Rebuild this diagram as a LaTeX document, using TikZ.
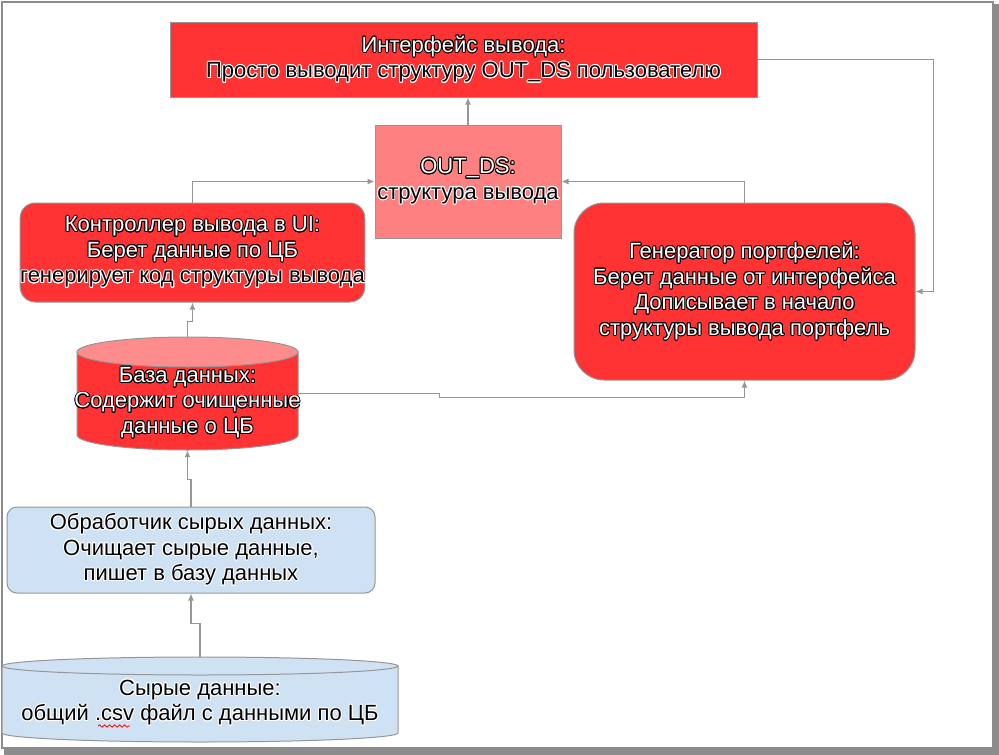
\documentclass[tikz,border=0pt]{standalone}
\usepackage{fontspec}
\setmainfont{Liberation Sans}
\usepackage[copies]{contour}
\usetikzlibrary{arrows.meta,decorations.pathmorphing}
\contourlength{0.9pt}
\definecolor{boxred}{RGB}{255,51,51}
\definecolor{boxpink}{RGB}{255,128,128}
\definecolor{toppink}{RGB}{255,140,140}
\definecolor{boxblue}{RGB}{207,226,243}
\definecolor{linegray}{RGB}{150,150,150}
\definecolor{framegray}{RGB}{140,140,140}
\newcommand\wtx[1]{\textcolor{white}{\contour{black}{#1}}}
\newcommand\bkx[1]{\textcolor{black}{\contour{white}{#1}}}
\begin{document}
\begin{tikzpicture}[x=1pt,y=-1pt,
  txt/.style={align=center,font=\fontsize{22}{25.5}\selectfont,inner sep=0pt},
  box/.style={txt,draw=linegray,line width=1pt},
  conn/.style={draw=linegray,line width=1.2pt,-{Latex[length=7pt,width=6pt]}},
  cyl/.style={draw=linegray,line width=1pt}]
\useasboundingbox (0,0) rectangle (999,755);
% frame
\draw[framegray,line width=2pt] (2,2) rectangle (993,748);
\fill[framegray] (992,4) rectangle (999,755);
\fill[framegray] (4,747) rectangle (999,755);

% boxes
\node[box,fill=boxred,minimum width=587,minimum height=75] (iface) at (463.5,59.5)
  {\wtx{Интерфейс вывода:}\\\bkx{Просто выводит структуру OUT\_DS пользователю}};
\node[box,fill=boxpink,minimum width=186,minimum height=113] (outds) at (468,181.5)
  {\wtx{OUT\_DS:}\\\bkx{структура вывода}};
\node[box,fill=boxred,rounded corners=15,minimum width=341,minimum height=99] (ctrl) at (192.5,252.5)
  {\wtx{Контроллер вывода в UI:}\\\wtx{Берет данные по ЦБ}\\\bkx{генерирует код структуры вывода}};
\node[box,fill=boxred,rounded corners=30,minimum width=341,minimum height=177] (gen) at (744.5,291.5)
  {\wtx{Генератор портфелей:}\\\wtx{Берет данные от интерфейса}\\\wtx{Дописывает в начало}\\\wtx{структуры вывода портфель}};
\node[box,fill=boxblue,rounded corners=10,minimum width=368,minimum height=86] (proc) at (191,550)
  {\bkx{Обработчик сырых данных:}\\\bkx{Очищает сырые данные,}\\\bkx{пишет в базу данных}};

% database cylinder
\node[inner sep=0pt,minimum width=221,minimum height=113] (db) at (187.5,393.5) {};
\filldraw[cyl,fill=boxred] (77,352) -- (77,435) arc[start angle=180,end angle=360,x radius=110.5pt,y radius=15pt] -- (298,352) -- cycle;
\filldraw[cyl,fill=toppink] (187.5,352) ellipse[x radius=110.5pt,y radius=15pt];
\node[txt] (dbtext) at (187.5,403) {\wtx{База данных:}\\\wtx{Содержит очищенные}\\\wtx{данные о ЦБ}};

% raw data cylinder
\node[inner sep=0pt,minimum width=396,minimum height=85] (raw) at (200,699.5) {};
\filldraw[cyl,fill=boxblue] (2,666) -- (2,733) arc[start angle=180,end angle=360,x radius=198pt,y radius=9pt] -- (398,666) -- cycle;
\filldraw[cyl,fill=boxblue] (200,666) ellipse[x radius=198pt,y radius=9pt];
\node[txt] (rawtext) at (200,703) {\bkx{Сырые данные:}\\\bkx{общий .csv файл с данными по ЦБ}};
\draw[red,line width=0.8pt,decorate,decoration={snake,amplitude=1.2pt,segment length=5pt}] (98,726) -- (130,726);

% connectors
\draw[conn] (outds.north) -- (outds.north |- iface.south);
\draw[conn] (ctrl.north) |- (outds.west);
\draw[conn] (gen.north) |- (outds.east);
\draw[conn] (iface.east) -- ++(176,0) |- (gen.east);
\draw[conn] (db.east) -- ++(141,0) -- ++(0,4) -| (gen.south);
\draw[conn] (db.north) -- ++(0,-15) -| (ctrl.south);
\draw[conn] (proc.north) -- ++(0,-27) -| (db.south);
\draw[conn] (raw.north) -- ++(0,-33) -| (proc.south);
\end{tikzpicture}
\end{document}
